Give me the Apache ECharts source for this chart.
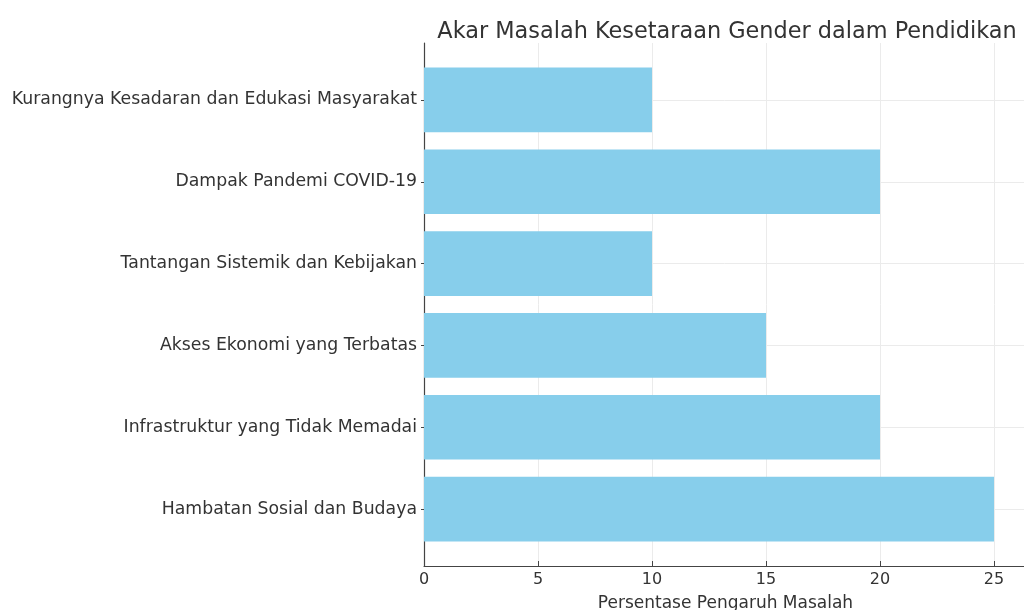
<!DOCTYPE html>
<html>
<head>
<meta charset="utf-8">
<script src="https://cdn.jsdelivr.net/npm/echarts@6/dist/echarts.min.js"></script>
<style>
html,body{margin:0;padding:0;background:#fff;}
#chart{width:1024px;height:610px;}
</style>
</head>
<body>
<div id="chart"></div>
<script>
// categories listed bottom -> top (ECharts category y axis starts at bottom)
const categories = [
  'Hambatan Sosial dan Budaya',
  'Infrastruktur yang Tidak Memadai',
  'Akses Ekonomi yang Terbatas',
  'Tantangan Sistemik dan Kebijakan',
  'Dampak Pandemi COVID-19',
  'Kurangnya Kesadaran dan Edukasi Masyarakat'
];
const values = [25, 20, 15, 10, 20, 10];
const xTicks = [0, 5, 10, 15, 20, 25];
const titleText = 'Akar Masalah Kesetaraan Gender dalam Pendidikan';
const xName = 'Persentase Pengaruh Masalah';

const FONT = 'DejaVu Sans';
const chart = echarts.init(document.getElementById('chart'), null, {renderer: 'canvas'});

const frameLeft = 424, frameTop = 43, frameHeight = 523, frameWidth = 603;
const xMax = 26.447;
const barTop = 59, barHeight = 491;

chart.setOption({
  animation: false,
  backgroundColor: '#ffffff',
  title: {
    text: titleText,
    left: 722,
    top: 16,
    textAlign: 'center',
    textStyle: {fontFamily: FONT, fontSize: 22.4, fontWeight: 'normal', color: '#333333'}
  },
  grid: [
    {left: frameLeft, top: frameTop, width: frameWidth, height: frameHeight, containLabel: false, outerBoundsMode: 'none'},
    {left: frameLeft, top: barTop, width: frameWidth, height: barHeight, containLabel: false, outerBoundsMode: 'none'}
  ],
  xAxis: [
    {
      gridIndex: 0, type: 'value', min: 0, max: xMax, interval: 5,
      name: xName, nameLocation: 'middle', nameGap: 29,
      nameTextStyle: {fontFamily: FONT, fontSize: 17, color: '#333333'},
      axisLine: {show: true, lineStyle: {color: '#444444', width: 1.2}},
      axisTick: {show: true, inside: true, length: 5, lineStyle: {color: '#444444'}},
      axisLabel: {
        fontFamily: FONT, fontSize: 16, color: '#333333', margin: 6,
        showMaxLabel: false,
        formatter: v => (xTicks.indexOf(v) >= 0 ? String(v) : '')
      },
      splitLine: {show: true, lineStyle: {color: '#ebebeb', width: 1}}
    },
    {
      gridIndex: 1, type: 'value', min: 0, max: xMax, show: false
    }
  ],
  yAxis: [
    {
      gridIndex: 0, type: 'value', min: 0, max: 1,
      axisLine: {show: true, lineStyle: {color: '#444444', width: 1.2}},
      axisTick: {show: false}, axisLabel: {show: false}, splitLine: {show: false}
    },
    {
      gridIndex: 1, type: 'category', data: categories,
      axisLine: {show: false},
      axisTick: {show: true, alignWithLabel: true, length: 3, lineStyle: {color: '#444444'}},
      axisLabel: {fontFamily: FONT, fontSize: 17.3, color: '#333333', margin: 7},
      splitLine: {show: false}
    }
  ],
  series: [
    {
      type: 'bar',
      xAxisIndex: 1, yAxisIndex: 1,
      data: values,
      barCategoryGap: '21%',
      itemStyle: {color: '#87CEEB'},
      emphasis: {disabled: true},
      silent: true,
      z: 3,
      markLine: {
        silent: true,
        symbol: ['none', 'none'],
        label: {show: false},
        z: 1,
        lineStyle: {color: '#ebebeb', width: 1, type: 'solid'},
        data: categories.map(c => ({yAxis: c}))
      }
    }
  ]
});
</script>
</body>
</html>
